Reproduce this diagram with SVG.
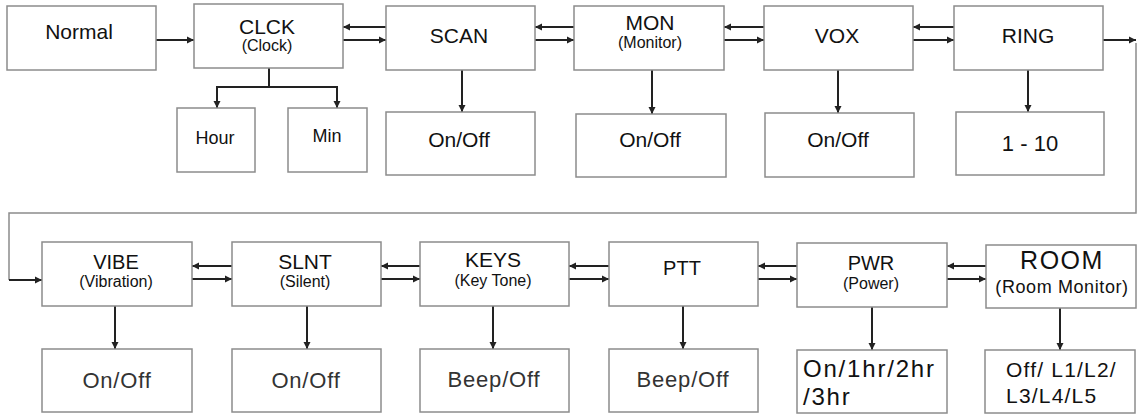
<svg xmlns="http://www.w3.org/2000/svg" width="1138" height="414" viewBox="0 0 1138 414">
<style>
.box{fill:#fff;stroke:#8c8c8c;stroke-width:1.5}
text{font-family:"Liberation Sans",Arial,sans-serif;fill:#111;text-anchor:middle}
.t{font-size:21px}
.s{font-size:16px}
.v{font-size:21px}
.b{font-size:22px;fill:#333;letter-spacing:0.8px}
.st{text-anchor:start}
.a{stroke:#222;stroke-width:2;fill:none;marker-end:url(#ah)}
.g{stroke:#8c8c8c;stroke-width:1.5;fill:none}
.l{stroke:#222;stroke-width:2;fill:none}
</style>
<defs>
<marker id="ah" markerUnits="userSpaceOnUse" markerWidth="8" markerHeight="8" refX="7" refY="4" orient="auto">
<path d="M0,0.5 L7,4 L0,7.5 z" fill="#222"/>
</marker>
</defs>
<rect width="1138" height="414" fill="#fff"/>
<g id="connectors">
<path class="a" d="M156,40 H194"/>
<path class="a" d="M386,27 H343"/><path class="a" d="M343,40 H386"/>
<path class="a" d="M574,27 H535"/><path class="a" d="M535,40 H574"/>
<path class="a" d="M764,27 H724"/><path class="a" d="M724,40 H764"/>
<path class="a" d="M954,27 H913"/><path class="a" d="M913,40 H954"/>
<path class="a" d="M1103,40 H1136"/>
<path class="g" d="M1136,43 V213 H9 V280"/>
<path class="a" d="M9,280 H42"/>
<path class="l" d="M269,68 V87 M217,87 H337"/>
<path class="a" d="M217,86 V108"/><path class="a" d="M337,86 V108"/>
<path class="a" d="M462,70 V112"/>
<path class="a" d="M652,70 V114"/>
<path class="a" d="M838,70 V113"/>
<path class="a" d="M1028,70 V112"/>
<path class="a" d="M232,266 H192"/><path class="a" d="M192,279 H232"/>
<path class="a" d="M420,266 H381"/><path class="a" d="M381,279 H420"/>
<path class="a" d="M609,266 H569"/><path class="a" d="M569,279 H609"/>
<path class="a" d="M797,266 H758"/><path class="a" d="M758,279 H797"/>
<path class="a" d="M986,266 H947"/><path class="a" d="M947,279 H986"/>
<path class="a" d="M115,306 V349"/>
<path class="a" d="M307,306 V349"/>
<path class="a" d="M493,306 V349"/>
<path class="a" d="M683,306 V349"/>
<path class="a" d="M872,307 V350"/>
<path class="a" d="M1060,308 V350"/>
</g>
<g id="normal"><rect class="box" x="7" y="6" width="149" height="64"/><text class="t" x="79" y="39">Normal</text></g>
<g id="clck"><rect class="box" x="194" y="4" width="149" height="64"/><text class="t" x="267" y="34">CLCK</text><text class="s" x="267" y="51">(Clock)</text></g>
<g id="scan"><rect class="box" x="386" y="6" width="149" height="64"/><text class="t" x="459" y="43">SCAN</text></g>
<g id="mon"><rect class="box" x="574" y="6" width="150" height="64"/><text class="t" x="650" y="30">MON</text><text class="s" x="650" y="48">(Monitor)</text></g>
<g id="vox"><rect class="box" x="764" y="6" width="149" height="64"/><text class="t" x="837" y="43">VOX</text></g>
<g id="ring"><rect class="box" x="954" y="6" width="149" height="64"/><text class="t" x="1028" y="43">RING</text></g>
<g id="hour"><rect class="box" x="177" y="108" width="78" height="64"/><text x="215" y="144" font-size="18">Hour</text></g>
<g id="min"><rect class="box" x="288" y="108" width="79" height="64"/><text x="327" y="142" font-size="18">Min</text></g>
<g id="scan-val"><rect class="box" x="386" y="112" width="149" height="63"/><text class="v" x="459" y="147">On/Off</text></g>
<g id="mon-val"><rect class="box" x="576" y="114" width="150" height="63"/><text class="v" x="650" y="147">On/Off</text></g>
<g id="vox-val"><rect class="box" x="765" y="113" width="149" height="64"/><text class="v" x="838" y="147">On/Off</text></g>
<g id="ring-val"><rect class="box" x="956" y="112" width="148" height="63"/><text x="1030" y="151" font-size="22">1 - 10</text></g>
<g id="vibe"><rect class="box" x="42" y="242" width="150" height="64"/><text x="116" y="269" font-size="20">VIBE</text><text class="s" x="116" y="287">(Vibration)</text></g>
<g id="slnt"><rect class="box" x="232" y="242" width="149" height="64"/><text class="t" x="305" y="269">SLNT</text><text class="s" x="305" y="287">(Silent)</text></g>
<g id="keys"><rect class="box" x="420" y="242" width="149" height="64"/><text class="t" x="493" y="267">KEYS</text><text class="s" x="493" y="286">(Key Tone)</text></g>
<g id="ptt"><rect class="box" x="609" y="242" width="149" height="64"/><text x="682" y="275" font-size="20">PTT</text></g>
<g id="pwr"><rect class="box" x="797" y="243" width="150" height="64"/><text x="871" y="270" font-size="20">PWR</text><text class="s" x="871" y="289">(Power)</text></g>
<g id="room"><rect class="box" x="986" y="245" width="150" height="63"/><text x="1062" y="269" font-size="25" fill="#222" letter-spacing="1.5">ROOM</text><text x="1062" y="293" font-size="18" fill="#222" letter-spacing="0.6">(Room Monitor)</text></g>
<g id="vibe-val"><rect class="box" x="42" y="349" width="150" height="63"/><text class="b" x="117" y="388">On/Off</text></g>
<g id="slnt-val"><rect class="box" x="232" y="349" width="149" height="63"/><text class="b" x="306" y="388">On/Off</text></g>
<g id="keys-val"><rect class="box" x="420" y="349" width="149" height="63"/><text class="b" x="494" y="387">Beep/Off</text></g>
<g id="ptt-val"><rect class="box" x="609" y="349" width="149" height="63"/><text class="b" x="683" y="387">Beep/Off</text></g>
<g id="pwr-val"><rect class="box" x="797" y="350" width="150" height="63"/><text class="st" x="803" y="377" font-size="24" fill="#222" letter-spacing="1.8">On/1hr/2hr</text><text class="st" x="803" y="405" font-size="24" fill="#222" letter-spacing="1.8">/3hr</text></g>
<g id="room-val"><rect class="box" x="985" y="350" width="150" height="63"/><text class="st" x="1006" y="377" font-size="21" fill="#333" letter-spacing="1.2">Off/ L1/L2/</text><text class="st" x="1006" y="403" font-size="21" fill="#333" letter-spacing="1.2">L3/L4/L5</text></g>
</svg>
